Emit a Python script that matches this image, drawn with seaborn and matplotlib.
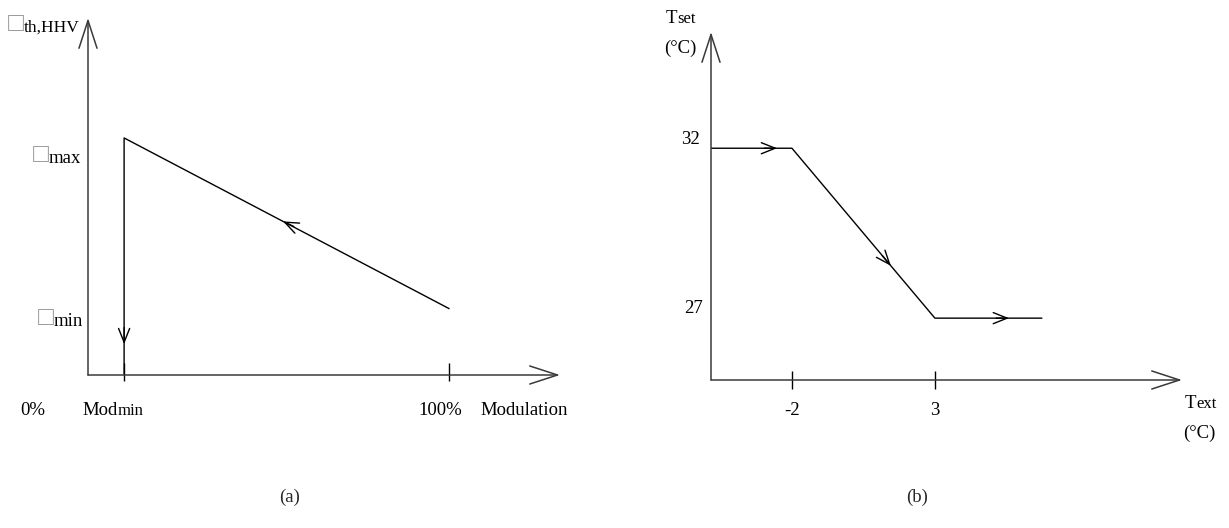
import matplotlib
matplotlib.use("Agg")
import matplotlib.pyplot as plt
import seaborn as sns
from matplotlib.text import Annotation

sns.set_style("white")
plt.rcParams["font.family"] = ["Liberation Serif", "DejaVu Sans"]

# ---- panel (a): thermal efficiency vs. burner modulation ----
mod_path = [10, 10, 100]          # Mod_min = 10 %, full load = 100 %
eff_path = [0.0, 1.0, 0.28]       # efficiency, normalised to eta_max
mod_ticks = [10, 100]
mod_axis_end = 130.7
eff_axis_end = 1.506

# ---- panel (b): supply set-point vs. outdoor temperature ----
ext_origin = -4.83
t_ext = [ext_origin, -2, 3, 6.74]
t_set = [32, 32, 27, 27]
ext_ticks = [-2, 3]
ext_axis_end = 11.64
set_origin = 25.18
set_axis_end = 35.42

W, H = 1229, 528
fig = plt.figure(figsize=(W / 100, H / 100), dpi=100)


def fx(px):
    return px / W


def fy(py):
    return 1 - py / H


axL = fig.add_axes([fx(88), fy(375), (560 - 88) / W, (375 - 18) / H])
axR = fig.add_axes([fx(711), fy(380), (1182 - 711) / W, (380 - 32) / H])
axL.set_xlim(0, mod_axis_end)
axL.set_ylim(0, eff_axis_end)
axR.set_xlim(ext_origin, ext_axis_end)
axR.set_ylim(set_origin, set_axis_end)
for ax in (axL, axR):
    ax.axis("off")

AX_COL = "#3a3a3a"
big_head = dict(arrowstyle="->,head_length=2.0,head_width=0.65",
                mutation_scale=10, lw=1.1, color=AX_COL, shrinkA=0, shrinkB=0)
small_head = dict(arrowstyle="->,head_length=1.0,head_width=0.4",
                  mutation_scale=10, lw=1.0, color="black", shrinkA=0, shrinkB=0)


def axis_arrows(ax, x0, x1, y0, y1):
    ax.annotate("", xy=(x1, y0), xytext=(x0, y0), arrowprops=big_head,
                annotation_clip=False)
    ax.annotate("", xy=(x0, y1), xytext=(x0, y0), arrowprops=big_head,
                annotation_clip=False)


axis_arrows(axL, 0, mod_axis_end, 0, eff_axis_end)
axis_arrows(axR, ext_origin, ext_axis_end, set_origin, set_axis_end)

# curves
sns.lineplot(x=mod_path, y=eff_path, sort=False, estimator=None,
             color="black", lw=1.0, ax=axL)
sns.lineplot(x=t_ext, y=t_set, sort=False, estimator=None,
             color="black", lw=1.0, ax=axR)

# tick marks crossing the horizontal axes
axL.vlines(mod_ticks, -0.025, 0.05, color="black", lw=1.0, clip_on=False)
axR.vlines(ext_ticks, set_origin - 0.265, set_origin + 0.265,
           color="black", lw=1.0, clip_on=False)


def mid_arrow(ax, x0, y0, x1, y1):
    ax.annotate("", xy=(x1, y1), xytext=(x0, y0), arrowprops=small_head,
                annotation_clip=False)


# direction of travel along the curves
mid_arrow(axL, 10, 0.20, 10, 0.13)
mid_arrow(axL, 57, 0.6264, 54, 0.648)
mid_arrow(axR, -2.97, 32, -2.52, 32)
mid_arrow(axR, 1.16, 28.84, 1.46, 28.54)
mid_arrow(axR, 5.14, 27, 5.59, 27)

FS = 13.5
SUB = 12


def label(px, py, parts, ha="left"):
    """Text pieces of different sizes placed one after another on a baseline."""
    text, size, color = parts[0]
    prev = fig.text(fx(px), fy(py), text, fontsize=size, color=color,
                    ha=ha, va="baseline")
    for text, size, color in parts[1:]:
        ann = Annotation(text, xy=(1, 0), xycoords=prev, fontsize=size,
                         color=color, ha="left", va="bottom")
        fig.add_artist(ann)
        prev = ann
    return prev


BOX = "\u25a1"
box = (BOX, 19, "#9a9a9a")

# panel (a) labels
label(8, 31, [box, ("th,HHV", 12.5, "black")])
label(33, 162, [box, ("max", FS, "black")])
label(38, 325, [box, ("min", FS, "black")])
label(20, 415, [("0%", FS, "black")])
label(82, 415, [("Mod", FS, "black"), ("min", SUB, "black")])
label(418, 415, [("100%", FS, "black")])
label(480, 415, [("Modulation", FS, "black")])
fig.text(fx(290), fy(497), "(a)", fontsize=FS, ha="center", va="center")

# panel (b) labels
label(666, 23, [("T", FS, "black"), ("set", SUB, "black")])
label(664, 53, [("(°C)", FS, "black")])
label(700, 144, [("32", FS, "black")], ha="right")
label(703, 313, [("27", FS, "black")], ha="right")
label(792, 415, [("-2", FS, "black")], ha="center")
label(935, 415, [("3", FS, "black")], ha="center")
label(1185, 408, [("T", FS, "black"), ("ext", SUB, "black")])
label(1183, 438, [("(°C)", FS, "black")])
fig.text(fx(917), fy(497), "(b)", fontsize=FS, ha="center", va="center")

fig.savefig("out.png", dpi=100)
